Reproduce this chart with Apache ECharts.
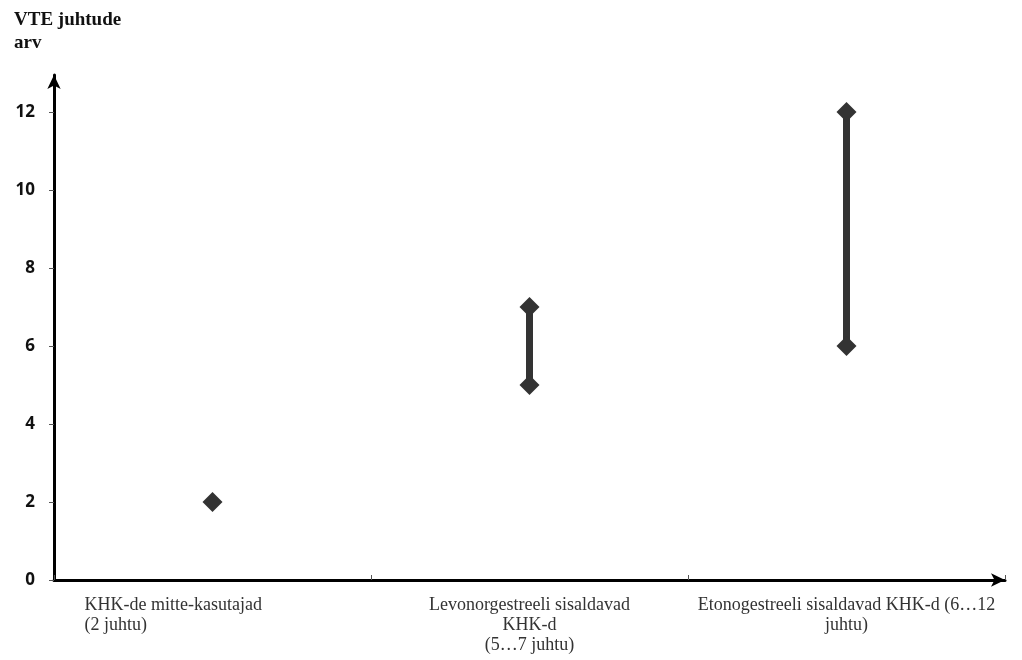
<!DOCTYPE html>
<html>
<head>
<meta charset="utf-8">
<script src="https://cdn.jsdelivr.net/npm/echarts@6/dist/echarts.min.js"></script>
<style>
  html, body { margin: 0; padding: 0; background: #fff; }
  #main { width: 1022px; height: 660px; }
</style>
</head>
<body>
<div id="main"></div>
<script>
// kategooriad ja VTE juhtude vahemikud
var categories = [
    '{l|KHK-de mitte-kasutajad}\n{l|(2 juhtu)}',
    'Levonorgestreeli sisaldavad\nKHK-d\n(5…7 juhtu)',
    'Etonogestreeli sisaldavad KHK-d (6…12\njuhtu)'
];
var lowValues = [2, 5, 6];
var highValues = [2, 7, 12];
var yTicks = [0, 2, 4, 6, 8, 10, 12];

var chart = echarts.init(document.getElementById('main'));

var series = [];
for (var i = 0; i < categories.length; i++) {
    var pts = [[i, lowValues[i]]];
    if (highValues[i] !== lowValues[i]) {
        pts.push([i, highValues[i]]);
    }
    series.push({
        type: 'line',
        data: pts,
        symbol: 'diamond',
        symbolSize: 20,
        color: '#333',
        lineStyle: { color: '#333', width: 7 },
        itemStyle: { color: '#333' },
        z: 3
    });
}

var option = {
    animation: false,
    backgroundColor: '#fff',
    title: {
        text: 'VTE juhtude\narv',
        left: 9,
        top: 4,
        textStyle: {
            fontFamily: 'Liberation Serif',
            fontWeight: 'bold',
            fontSize: 19,
            lineHeight: 23,
            color: '#111'
        }
    },
    grid: { left: 54, right: 17, top: 75, bottom: 80 },
    xAxis: {
        type: 'category',
        data: categories,
        boundaryGap: true,
        axisLine: {
            lineStyle: { color: '#000', width: 3 },
            symbol: ['none', 'arrow'],
            symbolSize: [10, 14]
        },
        axisTick: { show: true, inside: true, length: 5, lineStyle: { color: '#555', width: 1 } },
        axisLabel: {
            interval: 0,
            margin: 15,
            fontFamily: 'Liberation Serif',
            fontSize: 18,
            lineHeight: 20,
            color: '#333',
            rich: {
                l: {
                    width: 256,
                    align: 'left',
                    fontFamily: 'Liberation Serif',
                    fontSize: 18,
                    lineHeight: 20,
                    color: '#333'
                }
            }
        },
        splitLine: { show: false }
    },
    yAxis: {
        type: 'value',
        min: 0,
        max: 12.95,
        interval: 2,
        axisLine: {
            show: true,
            lineStyle: { color: '#000', width: 3 },
            symbol: ['none', 'arrow'],
            symbolSize: [10, 14]
        },
        axisTick: { show: true, length: 5, lineStyle: { color: '#555', width: 1 } },
        axisLabel: {
            margin: 19,
            fontFamily: 'Open Sans',
            fontWeight: 'bold',
            fontSize: 17,
            color: '#111',
            showMaxLabel: false,
            formatter: function (v) {
                return yTicks.indexOf(v) >= 0 ? String(v) : '';
            }
        },
        splitLine: { show: false }
    },
    series: series
};

chart.setOption(option);
</script>
</body>
</html>
